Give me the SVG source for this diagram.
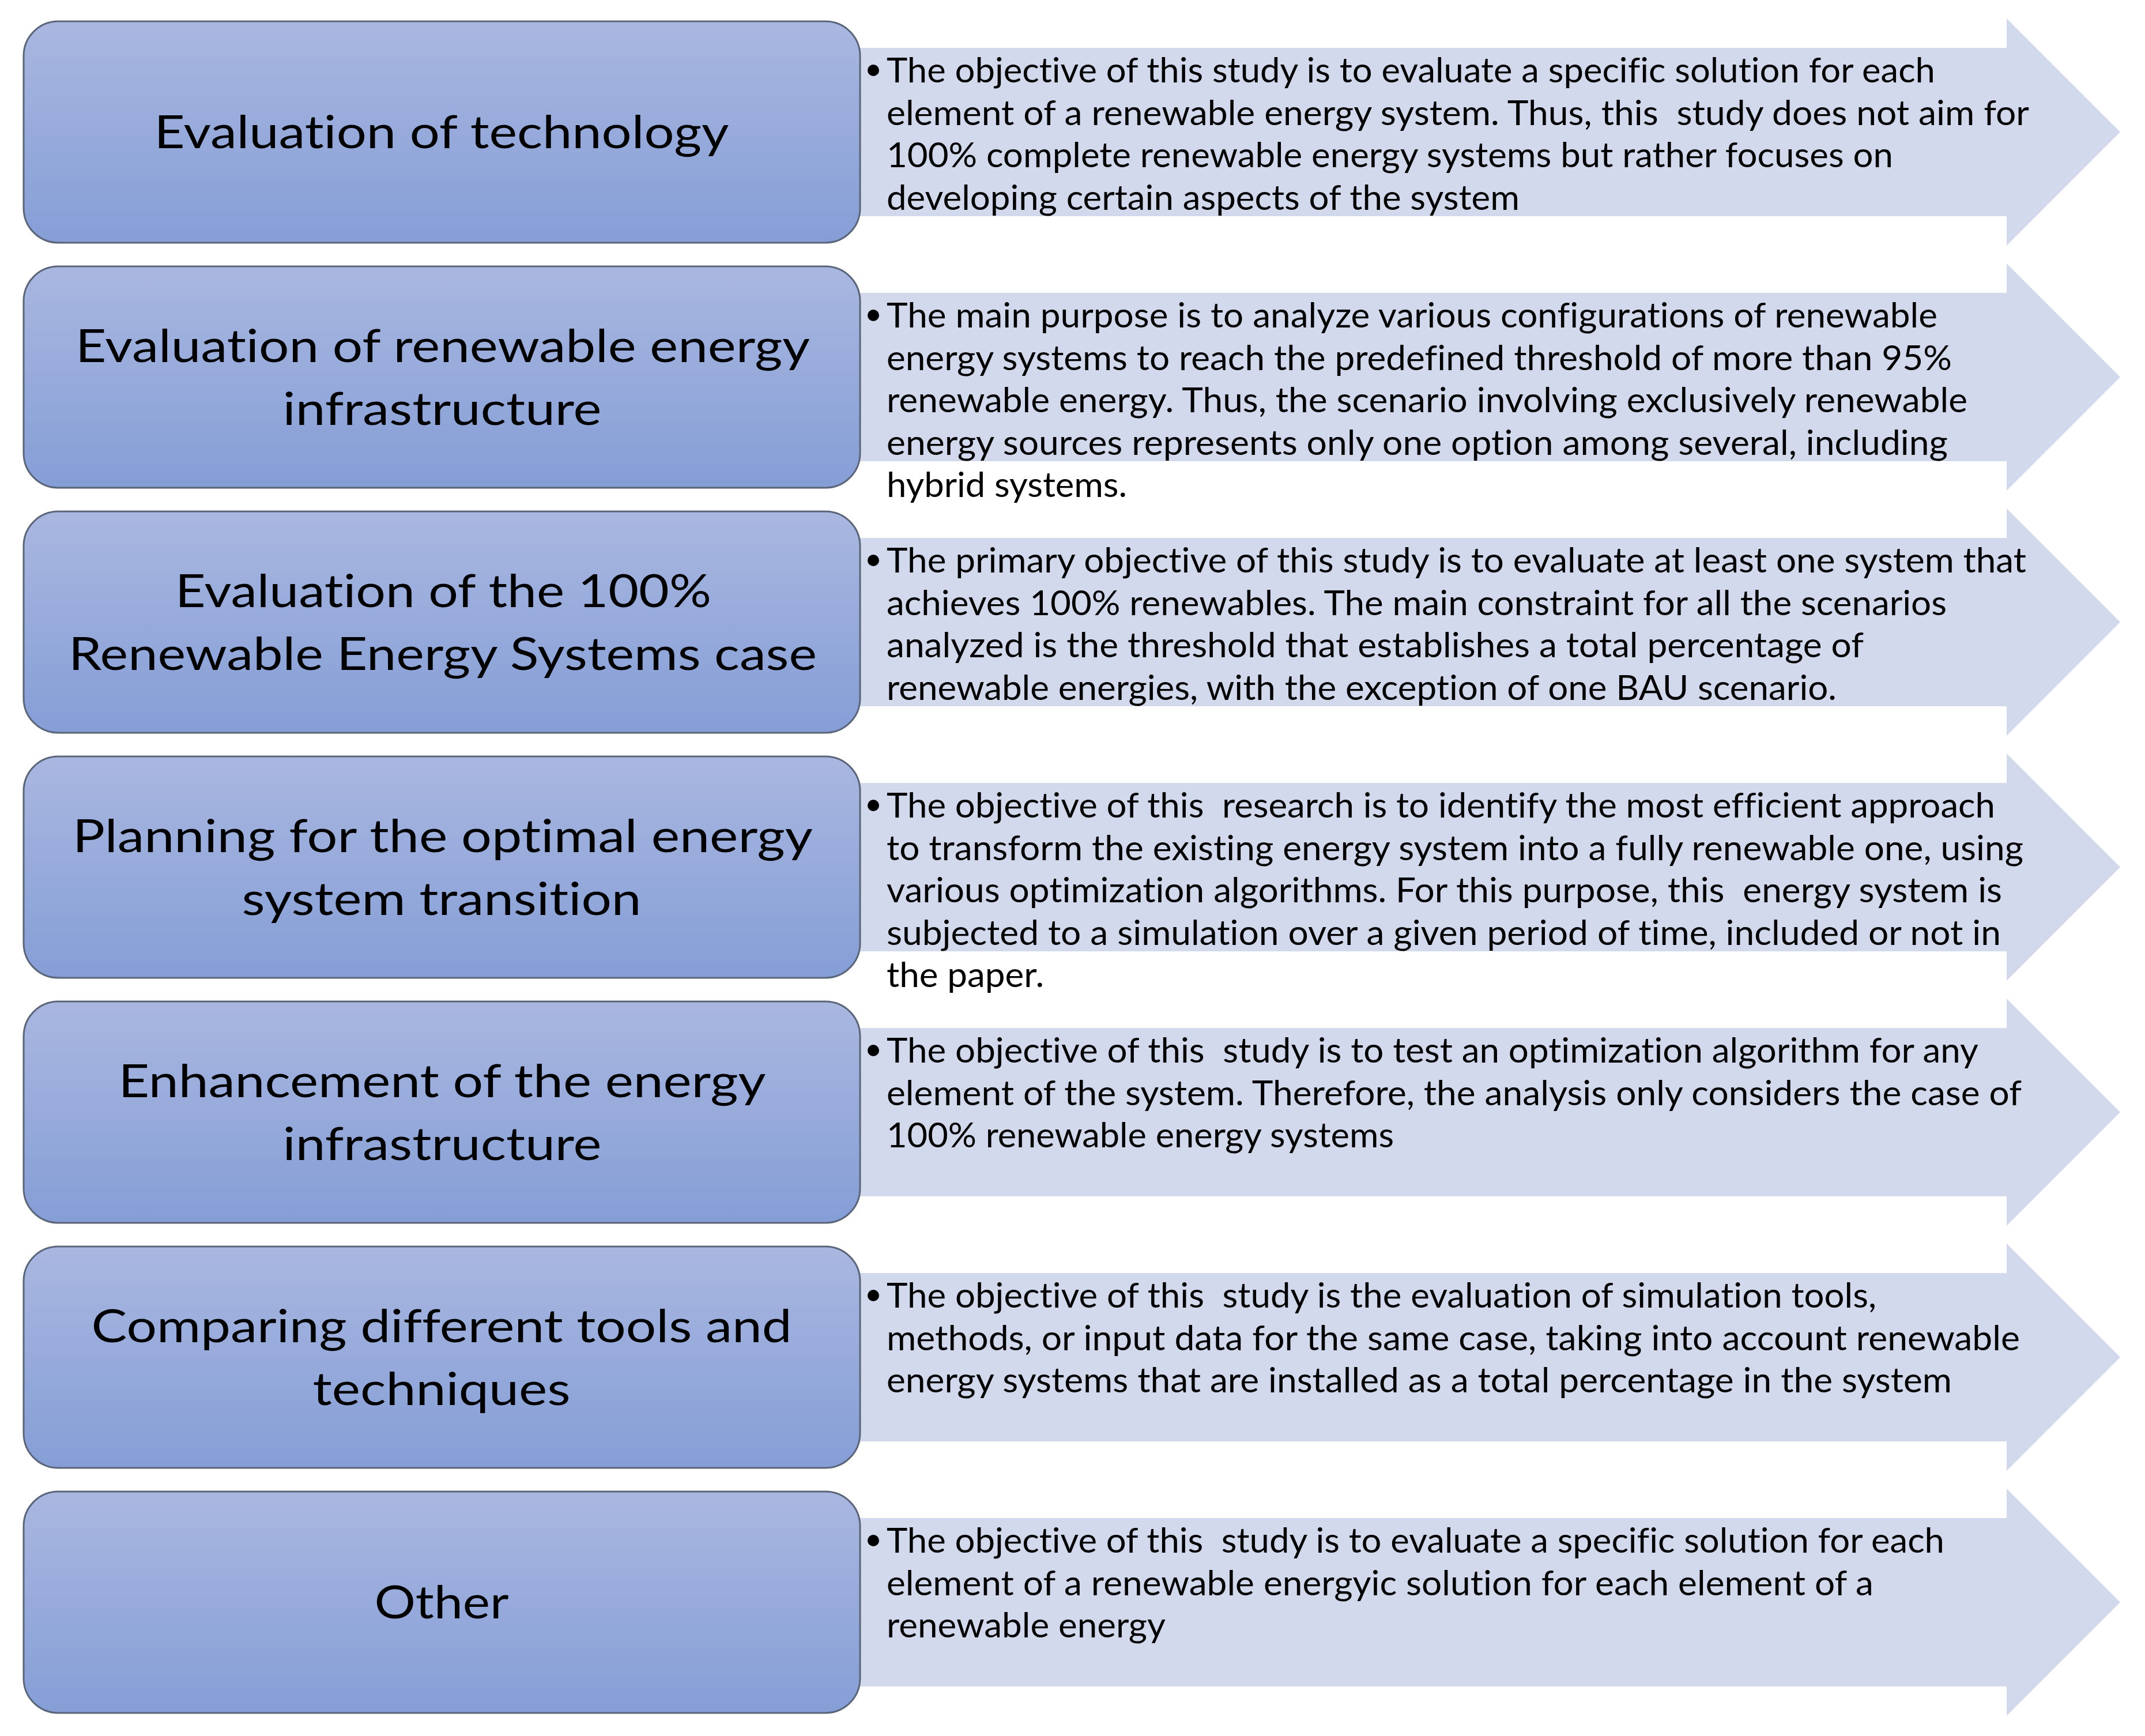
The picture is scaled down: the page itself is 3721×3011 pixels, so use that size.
<svg xmlns="http://www.w3.org/2000/svg" width="3721" height="3011" viewBox="0 0 3721 3011">
<defs>
<linearGradient id="boxGrad" x1="0" y1="0" x2="0" y2="1">
<stop offset="0" stop-color="#A9B7E0"/>
<stop offset="1" stop-color="#859ED6"/>
</linearGradient>
</defs>
<style>
.arrow{fill:#D3D9EC;}
.box{fill:url(#boxGrad);stroke:#5B6579;stroke-width:3;}
.title{font-family:Lato,"Open Sans",sans-serif;font-size:80px;fill:#000;text-anchor:middle;font-variant-ligatures:none;}
.body{font-family:Lato,"Open Sans",sans-serif;font-size:60px;fill:#000;font-variant-ligatures:none;}
.bullet{fill:#000;}
</style>
<rect width="3721" height="3011" fill="#FFFFFF"/>
<g id="connectors">
<polygon class="arrow" points="1440,83 3481,83 3481,32 3678,229 3481,426 3481,375 1440,375"/>
<polygon class="arrow" points="1440,508 3481,508 3481,457 3678,654 3481,851 3481,800 1440,800"/>
<polygon class="arrow" points="1440,933 3481,933 3481,882 3678,1079 3481,1276 3481,1225 1440,1225"/>
<polygon class="arrow" points="1440,1358 3481,1358 3481,1307 3678,1504 3481,1701 3481,1650 1440,1650"/>
<polygon class="arrow" points="1440,1783 3481,1783 3481,1732 3678,1929 3481,2126 3481,2075 1440,2075"/>
<polygon class="arrow" points="1440,2208 3481,2208 3481,2157 3678,2354 3481,2551 3481,2500 1440,2500"/>
<polygon class="arrow" points="1440,2633 3481,2633 3481,2582 3678,2779 3481,2976 3481,2925 1440,2925"/>
</g>
<g id="desc1">
<circle class="bullet" cx="1515" cy="122" r="10"/>
<text class="body" xml:space="preserve"><tspan x="1538" y="143" textLength="1819" lengthAdjust="spacingAndGlyphs">The objective of this study is to evaluate a specific solution for each</tspan></text>
<text class="body" xml:space="preserve"><tspan x="1538" y="216.5" textLength="1982" lengthAdjust="spacingAndGlyphs">element of a renewable energy system. Thus, this  study does not aim for</tspan></text>
<text class="body" xml:space="preserve"><tspan x="1538" y="290" textLength="1746" lengthAdjust="spacingAndGlyphs">100% complete renewable energy systems but rather focuses on</tspan></text>
<text class="body" xml:space="preserve"><tspan x="1538" y="363.5" textLength="1098" lengthAdjust="spacingAndGlyphs">developing certain aspects of the system</tspan></text>
</g>
<g id="desc2">
<circle class="bullet" cx="1515" cy="547" r="10"/>
<text class="body" xml:space="preserve"><tspan x="1538" y="568" textLength="1823" lengthAdjust="spacingAndGlyphs">The main purpose is to analyze various configurations of renewable</tspan></text>
<text class="body" xml:space="preserve"><tspan x="1538" y="641.5" textLength="1848" lengthAdjust="spacingAndGlyphs">energy systems to reach the predefined threshold of more than 95%</tspan></text>
<text class="body" xml:space="preserve"><tspan x="1538" y="715" textLength="1875" lengthAdjust="spacingAndGlyphs">renewable energy. Thus, the scenario involving exclusively renewable</tspan></text>
<text class="body" xml:space="preserve"><tspan x="1538" y="788.5" textLength="1841" lengthAdjust="spacingAndGlyphs">energy sources represents only one option among several, including</tspan></text>
<text class="body" xml:space="preserve"><tspan x="1538" y="862" textLength="417" lengthAdjust="spacingAndGlyphs">hybrid systems.</tspan></text>
</g>
<g id="desc3">
<circle class="bullet" cx="1515" cy="972" r="10"/>
<text class="body" xml:space="preserve"><tspan x="1538" y="993" textLength="1977" lengthAdjust="spacingAndGlyphs">The primary objective of this study is to evaluate at least one system that</tspan></text>
<text class="body" xml:space="preserve"><tspan x="1538" y="1066.5" textLength="1839" lengthAdjust="spacingAndGlyphs">achieves 100% renewables. The main constraint for all the scenarios</tspan></text>
<text class="body" xml:space="preserve"><tspan x="1538" y="1140" textLength="1695" lengthAdjust="spacingAndGlyphs">analyzed is the threshold that establishes a total percentage of</tspan></text>
<text class="body" xml:space="preserve"><tspan x="1538" y="1213.5" textLength="1648" lengthAdjust="spacingAndGlyphs">renewable energies, with the exception of one BAU scenario.</tspan></text>
</g>
<g id="desc4">
<circle class="bullet" cx="1515" cy="1397" r="10"/>
<text class="body" xml:space="preserve"><tspan x="1538" y="1418" textLength="1923" lengthAdjust="spacingAndGlyphs">The objective of this  research is to identify the most efficient approach</tspan></text>
<text class="body" xml:space="preserve"><tspan x="1538" y="1491.5" textLength="1972" lengthAdjust="spacingAndGlyphs">to transform the existing energy system into a fully renewable one, using</tspan></text>
<text class="body" xml:space="preserve"><tspan x="1538" y="1565" textLength="1935" lengthAdjust="spacingAndGlyphs">various optimization algorithms. For this purpose, this  energy system is</tspan></text>
<text class="body" xml:space="preserve"><tspan x="1538" y="1638.5" textLength="1933" lengthAdjust="spacingAndGlyphs">subjected to a simulation over a given period of time, included or not in</tspan></text>
<text class="body" xml:space="preserve"><tspan x="1538" y="1712" textLength="273" lengthAdjust="spacingAndGlyphs">the paper.</tspan></text>
</g>
<g id="desc5">
<circle class="bullet" cx="1515" cy="1822" r="10"/>
<text class="body" xml:space="preserve"><tspan x="1538" y="1843" textLength="1894" lengthAdjust="spacingAndGlyphs">The objective of this  study is to test an optimization algorithm for any</tspan></text>
<text class="body" xml:space="preserve"><tspan x="1538" y="1916.5" textLength="1969" lengthAdjust="spacingAndGlyphs">element of the system. Therefore, the analysis only considers the case of</tspan></text>
<text class="body" xml:space="preserve"><tspan x="1538" y="1990" textLength="880" lengthAdjust="spacingAndGlyphs">100% renewable energy systems</tspan></text>
</g>
<g id="desc6">
<circle class="bullet" cx="1515" cy="2247" r="10"/>
<text class="body" xml:space="preserve"><tspan x="1538" y="2268" textLength="1717" lengthAdjust="spacingAndGlyphs">The objective of this  study is the evaluation of simulation tools,</tspan></text>
<text class="body" xml:space="preserve"><tspan x="1538" y="2341.5" textLength="1966" lengthAdjust="spacingAndGlyphs">methods, or input data for the same case, taking into account renewable</tspan></text>
<text class="body" xml:space="preserve"><tspan x="1538" y="2415" textLength="1848" lengthAdjust="spacingAndGlyphs">energy systems that are installed as a total percentage in the system</tspan></text>
</g>
<g id="desc7">
<circle class="bullet" cx="1515" cy="2672" r="10"/>
<text class="body" xml:space="preserve"><tspan x="1538" y="2693" textLength="1835" lengthAdjust="spacingAndGlyphs">The objective of this  study is to evaluate a specific solution for each</tspan></text>
<text class="body" xml:space="preserve"><tspan x="1538" y="2766.5" textLength="1712" lengthAdjust="spacingAndGlyphs">element of a renewable energyic solution for each element of a</tspan></text>
<text class="body" xml:space="preserve"><tspan x="1538" y="2840" textLength="484" lengthAdjust="spacingAndGlyphs">renewable energy</tspan></text>
</g>
<g id="node1">
<rect class="box" x="41" y="37" width="1451" height="384" rx="60" ry="60"/>
<text class="title"><tspan x="766" y="257" textLength="997" lengthAdjust="spacingAndGlyphs">Evaluation of technology</tspan></text>
</g>
<g id="node2">
<rect class="box" x="41" y="462" width="1451" height="384" rx="60" ry="60"/>
<text class="title"><tspan x="768" y="627.5" textLength="1274" lengthAdjust="spacingAndGlyphs">Evaluation of renewable energy</tspan><tspan x="767" y="736.5" textLength="553" lengthAdjust="spacingAndGlyphs">infrastructure</tspan></text>
</g>
<g id="node3">
<rect class="box" x="41" y="887" width="1451" height="384" rx="60" ry="60"/>
<text class="title"><tspan x="769" y="1052.5" textLength="930" lengthAdjust="spacingAndGlyphs">Evaluation of the 100%</tspan><tspan x="768" y="1161.5" textLength="1298" lengthAdjust="spacingAndGlyphs">Renewable Energy Systems case</tspan></text>
</g>
<g id="node4">
<rect class="box" x="41" y="1312" width="1451" height="384" rx="60" ry="60"/>
<text class="title"><tspan x="768" y="1477.5" textLength="1284" lengthAdjust="spacingAndGlyphs">Planning for the optimal energy</tspan><tspan x="766" y="1586.5" textLength="693" lengthAdjust="spacingAndGlyphs">system transition</tspan></text>
</g>
<g id="node5">
<rect class="box" x="41" y="1737" width="1451" height="384" rx="60" ry="60"/>
<text class="title"><tspan x="767" y="1902.5" textLength="1123" lengthAdjust="spacingAndGlyphs">Enhancement of the energy</tspan><tspan x="767" y="2011.5" textLength="553" lengthAdjust="spacingAndGlyphs">infrastructure</tspan></text>
</g>
<g id="node6">
<rect class="box" x="41" y="2162" width="1451" height="384" rx="60" ry="60"/>
<text class="title"><tspan x="766" y="2327.5" textLength="1215" lengthAdjust="spacingAndGlyphs">Comparing different tools and</tspan><tspan x="766" y="2436.5" textLength="447" lengthAdjust="spacingAndGlyphs">techniques</tspan></text>
</g>
<g id="node7">
<rect class="box" x="41" y="2587" width="1451" height="384" rx="60" ry="60"/>
<text class="title"><tspan x="766" y="2807" textLength="233" lengthAdjust="spacingAndGlyphs">Other</tspan></text>
</g>
</svg>
